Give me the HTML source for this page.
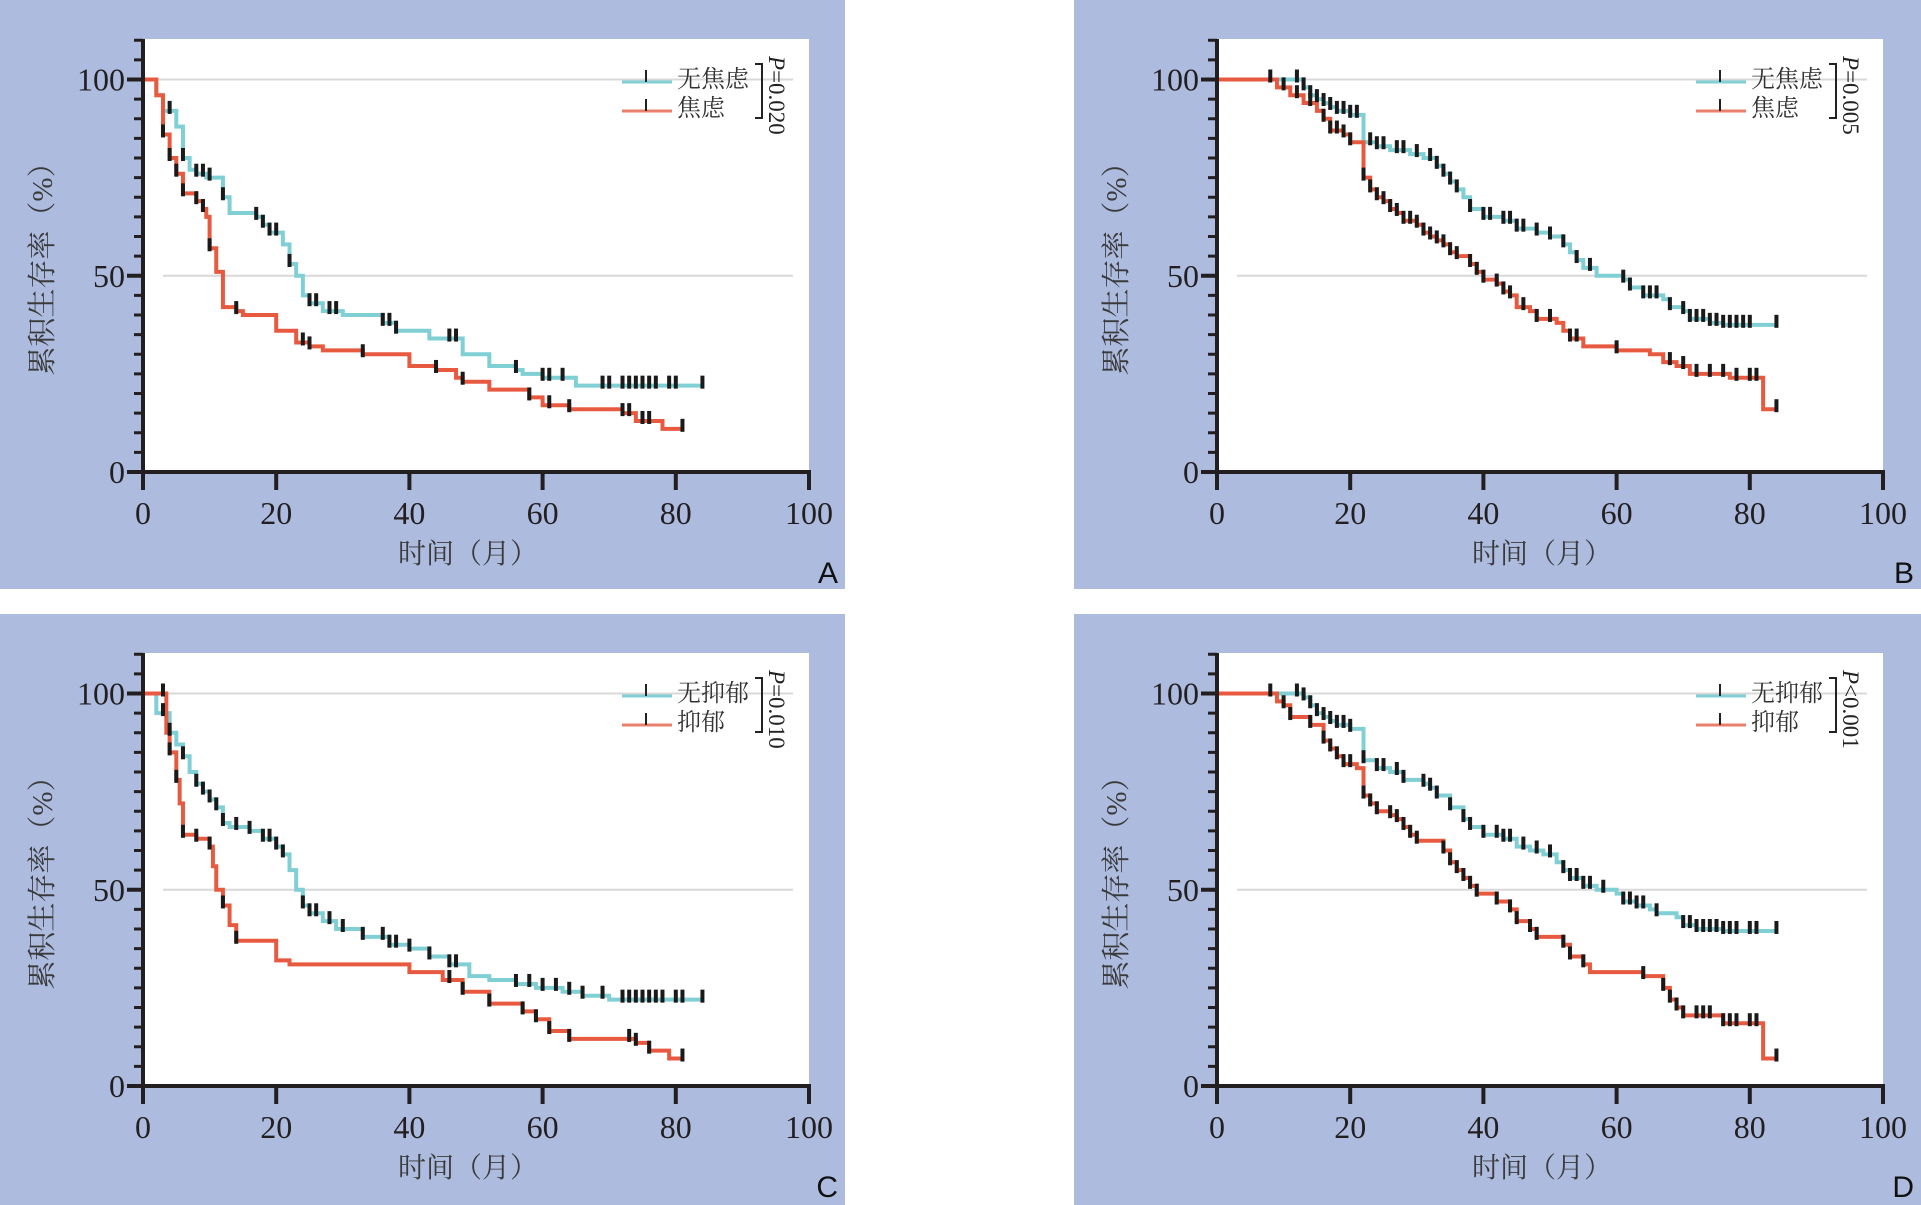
<!DOCTYPE html>
<html><head><meta charset="utf-8">
<style>
html,body{margin:0;padding:0;background:#fff;}
svg{display:block;}
</style></head>
<body>
<svg id="s" width="1921" height="1205" xmlns="http://www.w3.org/2000/svg"></svg>
<script>
const S=document.getElementById('s');
let out='';
const panels=[
 {ox:0,oy:0,w:845,h:589,L:'A',g:['无焦虑','焦虑'],p:'P=0.020',
  c:[[0,100],[2,96],[3,92],[5,88],[6,80],[7,77],[8,76],[9.5,75],[12,70],[13,66],[17,65],[18,63],[19,61],[21,58],[22,53],[23,50],[24,45],[25,43],[27,41],[30,40],[36,38],[38,36],[43,34],[48,30],[52,27],[56,26],[57,25],[60,24],[65,22]],cend:84,
  cc:[4,6,8,9,10,12,17,18,19,20,22,25,26,28,29,36,37,38,46,47,56,60,61,63,69,70,72,73,74,75,76,77,79,80,84],
  r:[[0,100],[2,96],[3,86],[4,80],[5,76],[6,71],[8,69],[9,67],[9.5,65],[10,57],[11,51],[12,42],[14,41],[15,40],[20,36],[23,33],[25,32],[27,31],[33,30],[40,27],[44,26],[47,24],[48,23],[52,21],[58,19],[60,17],[64,16],[72,15],[74,13],[78,11]],rend:81,
  rc:[3,4,5,6,8,9,10,14,24,25,33,44,48,58,61,64,72,73,75,76,81]},
 {ox:1074,oy:0,w:847,h:589,L:'B',g:['无焦虑','焦虑'],p:'P=0.005',
  c:[[0,100],[12,100],[13,98],[14,96],[15,95],[16,94],[17,93],[18,92],[20,91],[22,84],[24,83],[26,82],[29,81],[31,80],[33,78],[34,76],[35,74],[36,72],[37,70],[38,67],[40,65],[43,64],[45,62],[48,61],[50,60],[52,58],[53,56],[54,54],[55,52],[57,50],[61,49],[62,47],[64,45],[67,44],[68,42],[70,41],[71,39],[74,38],[76,37.5]],cend:84,
  cc:[8,12,13,14,15,16,17,18,19,20,21,23,24,25,27,28,30,32,33,34,35,36,38,40,41,43,44,45,46,48,50,52,54,56,61,62,64,65,66,68,70,71,72,73,74,75,76,77,78,79,80,84],
  r:[[0,100],[8,100],[9,98],[11,96],[13,94],[15,92],[16,90],[17,87],[19,86],[20,84],[22,75],[23,72],[24,70],[25,69],[26,67],[27,66],[28,64],[30,63],[31,61],[32,60],[33,59],[34,58],[35,56],[36,55],[38,53],[39,51],[40,49],[42,48],[43,46],[44,45],[45,42],[47,41],[48,39],[51,38],[52,36],[53,34],[55,32],[60,31],[65,30],[67,28],[69,27],[71,25],[77,24],[82,16]],rend:84,
  rc:[10,12,14,16,17,18,19,20,22,23,24,25,26,27,28,29,30,31,32,33,34,35,36,38,39,40,42,43,44,46,48,50,53,54,60,68,70,72,74,76,78,80,81,84]},
 {ox:0,oy:614,w:845,h:591,L:'C',g:['无抑郁','抑郁'],p:'P=0.010',
  c:[[0,100],[2,95],[4,90],[5,87],[6,84],[7,80],[8,77],[9,75],[10,73],[11,71],[12,67],[13,66],[16,65],[18,63],[20,61],[21,59],[22,55],[23,50],[24,46],[25,44],[27,42],[29,40],[33,38],[37,36],[40,35],[43,33],[46,31],[49,28],[52,27],[56,26],[59,25],[63,24],[66,23],[70,22]],cend:84,
  cc:[3,4,6,8,9,10,11,12,14,16,18,19,20,21,24,25,26,28,30,33,36,37,38,40,43,46,47,56,58,60,62,64,66,69,72,73,74,75,76,77,78,80,81,84],
  r:[[0,100],[3,100],[3.5,90],[4,85],[5,78],[5.5,72],[6,64],[8,63],[10,61],[10.5,56],[11,50],[12,46],[13,41],[14,37],[20,32],[22,31],[40,29],[45,27],[48,24],[52,21],[57,19],[59,17],[61,14],[64,12],[74,11],[76,9],[79,7]],rend:81,
  rc:[3,4,5,6,8,10,12,14,46,48,52,57,59,61,64,73,74,76,81]},
 {ox:1074,oy:614,w:847,h:591,L:'D',g:['无抑郁','抑郁'],p:'P<0.001',
  c:[[0,100],[12,100],[13,99],[14,97],[15,95],[16,94],[17,93],[18,92],[20,91],[22,83],[24,81],[26,80],[28,78],[31,77],[32,76],[33,74],[35,71],[37,68],[38,66],[40,64],[43,63],[45,61],[47,60],[49,59],[51,57],[52,55],[53,53],[55,51],[57,50],[60,49],[61,47],[63,46],[65,45],[66,44],[69,43],[70,41],[72,40],[76,39.5]],cend:84,
  cc:[12,13,14,15,16,17,18,19,20,22,24,25,27,28,31,32,33,35,37,38,40,42,43,44,46,48,50,52,53,54,55,56,58,61,62,63,64,66,70,71,72,73,74,75,76,77,78,80,81,84],
  r:[[0,100],[8,100],[9,98],[10,97],[11,94],[14,92],[16,88],[17,86],[18,84],[19,82],[21,81],[22,74],[23,72],[24,70],[26,69],[27,68],[28,66],[29,64],[30,62.5],[34,60],[35,57],[36,55],[37,53],[38,51],[39,49],[42,47],[44,45],[45,42],[47,40],[48,38],[52,36],[53,33],[55,31],[56,29],[64,28],[67,25],[68,22],[69,20],[70,18],[76,16],[82,7]],rend:84,
  rc:[8,10,11,14,16,17,18,19,20,22,23,24,26,27,28,29,30,34,35,36,37,38,39,42,44,45,47,48,52,53,55,64,67,68,69,70,72,73,74,76,77,78,80,81,84]}
];
const X0=143,Y0=472,SX=6.66,SY=3.925;
function sx(t){return X0+t*SX;}
function sy(v){return Y0-v*SY;}
function valAt(pts,t){let v=pts[0][1];for(const p of pts){if(p[0]<=t)v=p[1];}return v;}
function stepPath(pts,end){
 let d='M'+sx(0)+','+sy(pts[0][1]);
 for(let i=1;i<pts.length;i++){d+=' H'+sx(pts[i][0])+' V'+sy(pts[i][1]);}
 d+=' H'+sx(end);return d;
}
const serif='"Liberation Serif","Noto Serif CJK SC",serif';
for(const P of panels){
 out+=`<g transform="translate(${P.ox},${P.oy})">`;
 out+=`<rect x="0" y="0" width="${P.w}" height="${P.h}" fill="#adbbdf"/>`;
 out+=`<rect x="${X0}" y="39" width="${sx(100)-X0}" height="${Y0-39}" fill="#fff"/>`;
 out+=`<line x1="${X0}" y1="${sy(100)}" x2="793" y2="${sy(100)}" stroke="#d8d8d8" stroke-width="2"/>`;
 out+=`<line x1="163" y1="${sy(50)}" x2="793" y2="${sy(50)}" stroke="#d8d8d8" stroke-width="2"/>`;
 out+=`<path d="${stepPath(P.c,P.cend)}" fill="none" stroke="#7fcfd5" stroke-width="4"/>`;
 out+=`<path d="${stepPath(P.r,P.rend)}" fill="none" stroke="#e85a40" stroke-width="4"/>`;
 for(const t of P.cc){const y=sy(valAt(P.c,t));out+=`<rect x="${sx(t)-2}" y="${y-10}" width="4" height="13" fill="#1a1a1a"/>`;}
 for(const t of P.rc){const y=sy(valAt(P.r,t));out+=`<rect x="${sx(t)-2}" y="${y-10}" width="4" height="13" fill="#1a1a1a"/>`;}
 out+=`<line x1="${X0}" y1="39" x2="${X0}" y2="${Y0+18}" stroke="#231f20" stroke-width="4"/>`;
 out+=`<line x1="${X0-16}" y1="${Y0}" x2="${sx(100)+2}" y2="${Y0}" stroke="#231f20" stroke-width="4"/>`;
 for(let v=5;v<=110;v+=5){if(v%50===0)continue;out+=`<line x1="${X0-9}" y1="${sy(v)}" x2="${X0}" y2="${sy(v)}" stroke="#231f20" stroke-width="3"/>`;}
 for(const v of [50,100]){out+=`<line x1="${X0-16}" y1="${sy(v)}" x2="${X0}" y2="${sy(v)}" stroke="#231f20" stroke-width="4"/>`;}
 for(let t=20;t<=100;t+=20){out+=`<line x1="${sx(t)}" y1="${Y0}" x2="${sx(t)}" y2="${Y0+18}" stroke="#231f20" stroke-width="4"/>`;}
 for(let t=0;t<=100;t+=20){out+=`<text x="${sx(t)}" y="524" font-size="32" text-anchor="middle" fill="#231f20" style='font-family:${serif}'>${t}</text>`;}
 for(const v of [0,50,100]){out+=`<text x="${X0-18}" y="${sy(v)+11}" font-size="32" text-anchor="end" fill="#231f20" style='font-family:${serif}'>${v}</text>`;}
 out+=`<text x="468" y="563" font-size="28" text-anchor="middle" fill="#3a3a3a" style='font-family:${serif}'>时间（月）</text>`;
 out+=`<text transform="translate(52,262) rotate(-90)" font-size="29" text-anchor="middle" fill="#3a3a3a" style='font-family:${serif}'>累积生存率（%）</text>`;
 out+=`<text x="${P.w-7}" y="583" font-size="30" text-anchor="end" fill="#111" style='font-family:"Liberation Sans",sans-serif'>${P.L}</text>`;
 out+=`<line x1="622" y1="82" x2="672" y2="82" stroke="#7fcfd5" stroke-width="3"/>`;
 out+=`<line x1="622" y1="111" x2="672" y2="111" stroke="#e8806c" stroke-width="3"/>`;
 out+=`<line x1="646" y1="70" x2="646" y2="82" stroke="#222" stroke-width="2"/>`;
 out+=`<line x1="646" y1="99" x2="646" y2="111" stroke="#222" stroke-width="2"/>`;
 out+=`<text x="677" y="87" font-size="24" fill="#333" style='font-family:${serif}'>${P.g[0]}</text>`;
 out+=`<text x="677" y="116" font-size="24" fill="#333" style='font-family:${serif}'>${P.g[1]}</text>`;
 out+=`<path d="M755,64 H762 V118 H755" fill="none" stroke="#222" stroke-width="2"/>`;
 out+=`<text transform="translate(769,56) rotate(90)" font-size="23" fill="#222" style='font-family:${serif}'><tspan font-style="italic">P</tspan>${P.p.slice(1)}</text>`;
 out+=`</g>`;
}
S.innerHTML=out;
</script>
</body></html>
